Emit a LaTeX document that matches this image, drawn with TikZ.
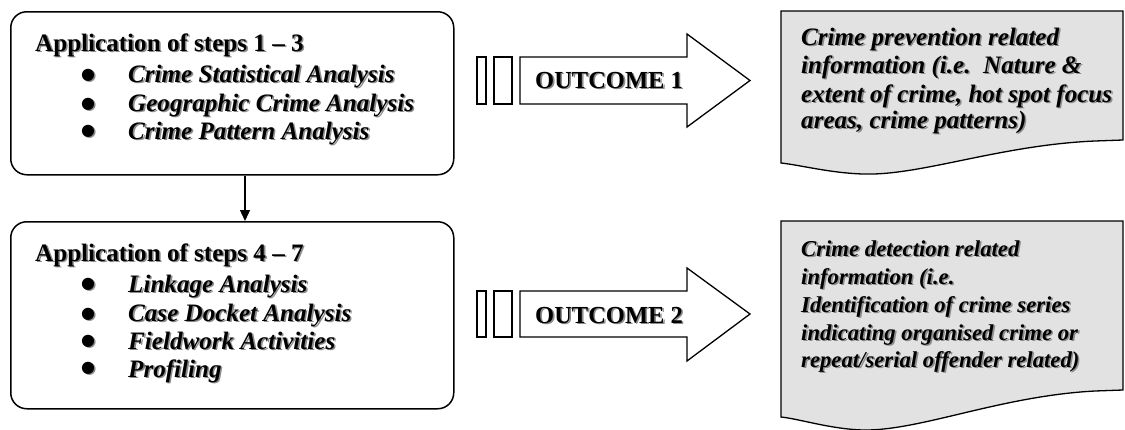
\documentclass[tikz,border=0pt]{standalone}
\usepackage{fontspec}
\setmainfont{Liberation Serif}
\newfontfamily\symfont{DejaVu Sans}
\usetikzlibrary{arrows.meta}
\newcommand{\shd}[1]{\makebox[0pt][l]{\hspace{1.6pt}\raisebox{-1.6pt}{\color{black!45}#1}}#1}
\tikzset{
  appbox/.style={draw, line width=1.5pt, rounded corners=16pt, anchor=north west, inner sep=0pt},
  txt/.style={anchor=base west, inner sep=0pt, font=\fontsize{25.1}{28}\selectfont\bfseries},
  otxt/.style={txt, font=\fontsize{24.5}{28}\selectfont\bfseries},
  itxt/.style={txt, font=\fontsize{25.1}{28}\selectfont\bfseries\itshape},
  dtxt/.style={txt, font=\fontsize{25.1}{28}\selectfont\bfseries\itshape},
  etxt/.style={txt, font=\fontsize{22.7}{28}\selectfont\bfseries\itshape},
  bul/.style={anchor=center, inner sep=0pt, font=\fontsize{16}{16}\selectfont\symfont},
  outline/.style={draw, line width=1.3pt, fill=white},
  docshape/.style={draw, line width=1.3pt, fill={rgb,255:red,226;green,226;blue,226}},
  conn/.style={line width=1.3pt, -{Triangle[width=10pt,length=11pt]}}
}
\begin{document}
\begin{tikzpicture}[x=1pt,y=-1pt]
\useasboundingbox (0,0) rectangle (1125,429);
% left boxes
\node[appbox, minimum width=443pt, minimum height=163pt] (b1) at (10,11) {};
\node[appbox, minimum width=443pt, minimum height=187pt] (b2) at (10,221) {};
\node[txt] (h1) at (35,51) {\shd{Application of steps 1 -- 3}};
\node[bul] (p11) at (88,76) {\shd{●}};
\node[itxt] (i11) at (128,82) {\shd{Crime Statistical Analysis}};
\node[bul] (p12) at (88,105) {\shd{●}};
\node[itxt] (i12) at (128,111) {\shd{Geographic Crime Analysis}};
\node[bul] (p13) at (88,132) {\shd{●}};
\node[itxt] (i13) at (128,139) {\shd{Crime Pattern Analysis}};
\node[txt] (h2) at (35,261) {\shd{Application of steps 4 -- 7}};
\node[bul] (p21) at (88,285) {\shd{●}};
\node[itxt] (i21) at (128,292) {\shd{Linkage Analysis}};
\node[bul] (p22) at (88,315) {\shd{●}};
\node[itxt] (i22) at (128,321) {\shd{Case Docket Analysis}};
\node[bul] (p23) at (88,342) {\shd{●}};
\node[itxt] (i23) at (128,349) {\shd{Fieldwork Activities}};
\node[bul] (p24) at (88,369) {\shd{●}};
\node[itxt] (i24) at (128,377) {\shd{Profiling}};
\coordinate (ax) at (245,0);
\draw[conn] (b1.south -| ax) -- (b2.north -| ax);
% outcome arrows
\draw[outline] (477,57) rectangle (486,104);
\draw[outline] (494,57) rectangle (512,104);
\draw[outline] (520,57) -- (687,57) -- (687,34) -- (750,80.5) -- (687,127) -- (687,104) -- (520,104) -- cycle;
\node[otxt] (o1) at (535,88) {\shd{OUTCOME 1}};
\draw[outline] (477,291) rectangle (486,337);
\draw[outline] (494,291) rectangle (512,337);
\draw[outline] (520,291) -- (687,291) -- (687,268) -- (750,314) -- (687,361) -- (687,337) -- (520,337) -- cycle;
\node[otxt] (o2) at (535,323) {\shd{OUTCOME 2}};
% documents
\draw[docshape] (781,11) -- (1123,11) -- (1123,140) -- (1095,141)
  .. controls (1000,145) and (920,176) .. (863,174)
  .. controls (830,173) and (800,165) .. (781,163) -- cycle;
\node[dtxt] (d11) at (801,45) {\shd{Crime prevention related}};
\node[dtxt] (d12) at (801,73) {\shd{information (i.e.\ \ Nature \&}};
\node[dtxt] (d13) at (801,102) {\shd{extent of crime, hot spot focus}};
\node[dtxt] (d14) at (801,128) {\shd{areas, crime patterns)}};
\draw[docshape] (781,221) -- (1123,221) -- (1123,390) -- (1095,391)
  .. controls (1000,396) and (920,431) .. (863,430)
  .. controls (830,429) and (800,419) .. (781,417) -- cycle;
\node[etxt] (d21) at (801,256) {\shd{Crime detection related}};
\node[etxt] (d22) at (801,284) {\shd{information (i.e.}};
\node[etxt] (d23) at (801,312) {\shd{Identification of crime series}};
\node[etxt] (d24) at (801,340) {\shd{indicating organised crime or}};
\node[etxt] (d25) at (801,367) {\shd{repeat/serial offender related)}};
\end{tikzpicture}
\end{document}
